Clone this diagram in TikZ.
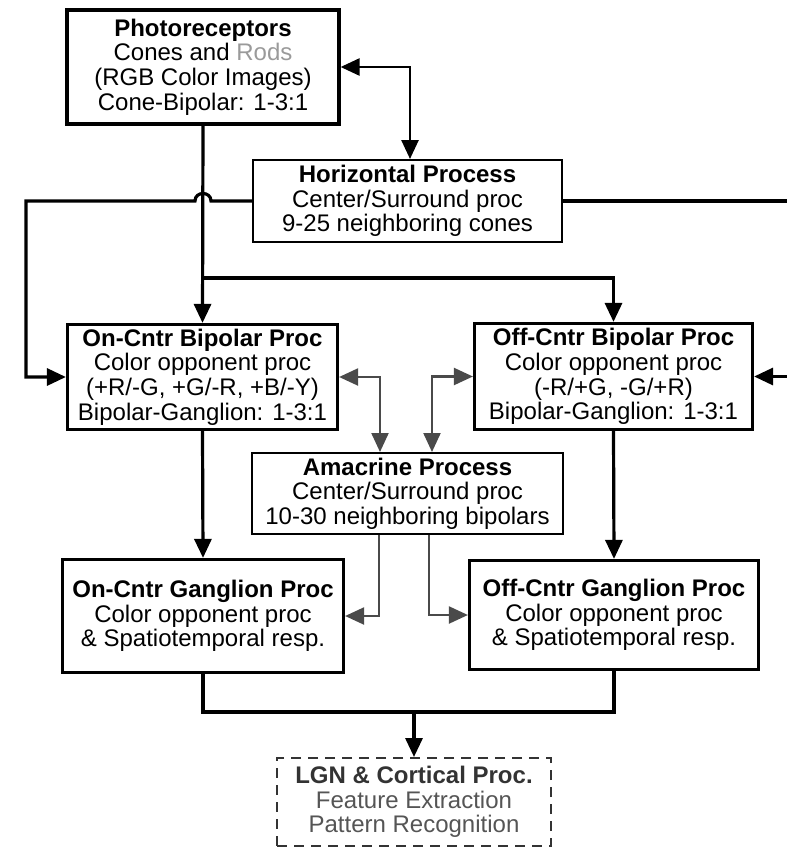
\documentclass[tikz,border=0pt]{standalone}
\usepackage{fontspec}
\setmainfont{Liberation Sans}
\usetikzlibrary{arrows.meta}
\definecolor{rodgray}{HTML}{9A9A9A}
\definecolor{lgndark}{HTML}{333333}
\definecolor{lgnlight}{HTML}{555555}
\definecolor{linkgray}{HTML}{4A4A4A}
\begin{document}
\begin{tikzpicture}[x=1pt,y=-1pt,
  every node/.style={font=\fontsize{24}{24.7}\selectfont, align=center, inner sep=0pt},
  mainbox/.style={draw, line width=3.2pt},
  sidebox/.style={draw, line width=2pt},
  dashbox/.style={draw=lgndark, line width=2pt, dash pattern=on 10pt off 7pt},
  conn/.style={line width=3.2pt},
  sideconn/.style={line width=2.2pt, draw=linkgray},
  tip/.style={-{Triangle[length=19pt,width=17pt]}},
  tips/.style={{Triangle[length=19pt,width=17pt]}-{Triangle[length=19pt,width=17pt]}}
]
\path[use as bounding box, clip] (0,0) rectangle (787,849);

% processing stages
\node[mainbox, minimum width=272pt, minimum height=114pt] (photo) at (203,67)
  {\textbf{Photoreceptors}\\Cones and {\color{rodgray}Rods}\\(RGB Color Images)\\Cone-Bipolar: 1-3:1};
\node[sidebox, minimum width=309pt, minimum height=82pt] (horiz) at (407.5,201)
  {\textbf{Horizontal Process}\\Center/Surround proc\\9-25 neighboring cones};
\node[mainbox, minimum width=270pt, minimum height=105pt] (onbp) at (202.5,377)
  {\textbf{On-Cntr Bipolar Proc}\\Color opponent proc\\(+R/-G, +G/-R, +B/-Y)\\Bipolar-Ganglion: 1-3:1};
\node[mainbox, minimum width=278pt, minimum height=106pt] (offbp) at (613.5,376.5)
  {\textbf{Off-Cntr Bipolar Proc}\\Color opponent proc\\(-R/+G, -G/+R)\\Bipolar-Ganglion: 1-3:1};
\node[sidebox, minimum width=311pt, minimum height=81pt] (amac) at (407.5,493.5)
  {\textbf{Amacrine Process}\\Center/Surround proc\\10-30 neighboring bipolars};
\node[mainbox, minimum width=281pt, minimum height=113pt] (ongl) at (203,616)
  {\textbf{On-Cntr Ganglion Proc}\\Color opponent proc\\\& Spatiotemporal resp.};
\node[mainbox, minimum width=289pt, minimum height=109pt] (offgl) at (614,615)
  {\textbf{Off-Cntr Ganglion Proc}\\Color opponent proc\\\& Spatiotemporal resp.};
\node[dashbox, minimum width=274pt, minimum height=88pt] (lgn) at (414,802)
  {\textcolor{lgndark}{\textbf{LGN \& Cortical Proc.}}\\\textcolor{lgnlight}{Feature Extraction}\\\textcolor{lgnlight}{Pattern Recognition}};

% junction points
\coordinate (br) at (203,278);
\coordinate (jn) at (414,712);

% feed-forward path
\draw[conn, tip] (photo.south) -- (onbp.north);
\draw[conn, tip] (br) -| (offbp.north);
\draw[conn, tip] (onbp.south) -- (ongl.north);
\draw[conn, tip] (offbp.south) -- (offgl.north);
\draw[conn] (ongl.south) |- (jn) -| (offgl.south);
\draw[conn, tip] (jn) -- (lgn.north);

% horizontal cell feedback
\draw[line width=2.6pt, tips] (photo.east) -| ([xshift=2.5pt]horiz.north);
\draw[conn, tip] (horiz.west) -- (211,201) .. controls (211,191) and (195,191) .. (195,201) -- (26,201) |- (onbp.west);
\draw[conn, tip] (horiz.east) -- (800,201) |- (offbp.east);

% amacrine cell links
\draw[sideconn, tips] (onbp.east) -| ([xshift=-27.5pt]amac.north);
\draw[sideconn, tips] (offbp.west) -| ([xshift=24.5pt]amac.north);
\draw[sideconn, tip] ([xshift=-28.5pt]amac.south) |- (ongl.east);
\draw[sideconn, tip] ([xshift=21.5pt]amac.south) |- (offgl.west);
\end{tikzpicture}
\end{document}
